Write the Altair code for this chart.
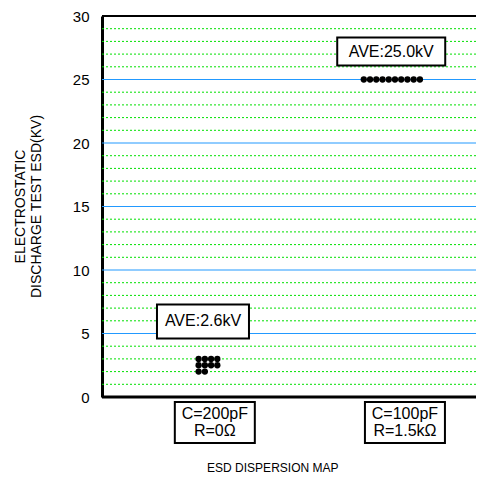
import altair as alt
import pandas as pd

# ---- data ----
y_ticks = [0, 5, 10, 15, 20, 25, 30]
major_grid = [5, 10, 15, 20, 25]
minor_grid = [1, 2, 3, 4, 6, 7, 8, 9, 11, 12, 13, 14, 16, 17, 18, 19,
              21, 22, 23, 24, 26, 27, 28, 29]

# group A: C=200pF R=0 ohm (10 samples)
a_idx = [15.5, 16.5, 17.5, 18.5, 15.5, 16.5, 17.5, 18.5, 15.5, 16.5]
a_kv = [3, 3, 3, 3, 2.5, 2.5, 2.5, 2.5, 2, 2]
# group B: C=100pF R=1.5k ohm (10 samples)
b_idx = [42, 43, 44, 45, 46, 47, 48, 49, 50, 51]
b_kv = [25, 25, 25, 25, 25, 25, 25, 25, 25, 25]

ann_text = ["AVE:2.6kV", "AVE:25.0kV"]
ann_x = [16.2, 46.4]
ann_y = [5.95, 27.2]

cat_box_x = [18.1, 48.6]
cat_box_y = [-2.0, -2.0]
cat_line_text = ["C=200pF", "R=0Ω", "C=100pF", "R=1.5kΩ"]
cat_line_x = [18.1, 18.1, 48.6, 48.6]
cat_line_y = [-1.3, -2.7, -1.3, -2.7]

ytitle_text = ["ELECTROSTATIC", "DISCHARGE TEST ESD(KV)"]
ytitle_x = [-13.0, -10.5]
ytitle_y = [15.0, 15.0]

xtitle_text = ["ESD DISPERSION MAP"]
xtitle_x = [27.4]
xtitle_y = [-5.56]

FONT = "Liberation Sans"
xs = alt.Scale(domain=[0, 60], nice=False, zero=False)
ys = alt.Scale(domain=[0, 30], nice=False, zero=False)

yaxis = alt.Axis(values=y_ticks, grid=False, ticks=False, domain=True,
                 domainColor="black", domainWidth=3, labelFont=FONT,
                 labelFontSize=15, labelColor="black", labelPadding=13,
                 title=None)


def Y(field):
    return alt.Y(field, scale=ys, axis=yaxis)


def X(field):
    return alt.X(field, scale=xs, axis=None)


minor = alt.Chart(pd.DataFrame({"v": minor_grid})).mark_rule(
    color="#00e000", strokeDash=[2, 2], strokeWidth=1
).encode(y=Y("v:Q"))

major = alt.Chart(pd.DataFrame({"v": major_grid})).mark_rule(
    color="#2299ff", strokeWidth=1.2
).encode(y=Y("v:Q"))

bottom = alt.Chart(pd.DataFrame({"v": [0]})).mark_rule(
    color="black", strokeWidth=3
).encode(y=Y("v:Q"))

top = alt.Chart(pd.DataFrame({"v": [30]})).mark_rule(
    color="black", strokeWidth=2
).encode(y=Y("v:Q"))

dots_df = pd.DataFrame({"idx": a_idx + b_idx, "kv": a_kv + b_kv})
dots = alt.Chart(dots_df).mark_circle(size=40, color="black", opacity=1).encode(
    x=X("idx:Q"), y=Y("kv:Q"),
)

ann_df = pd.DataFrame({"t": ann_text, "x": ann_x, "y": ann_y})
box1 = alt.Chart(ann_df.iloc[[0]]).mark_point(
    shape="M-46,-17H46V17H-46Z", size=4, filled=True, fill="white",
    stroke="black", strokeWidth=2, opacity=1, fillOpacity=1
).encode(x=X("x:Q"), y=Y("y:Q"))
box2 = alt.Chart(ann_df.iloc[[1]]).mark_point(
    shape="M-54,-14H54V14H-54Z", size=4, filled=True, fill="white",
    stroke="black", strokeWidth=2, opacity=1, fillOpacity=1
).encode(x=X("x:Q"), y=Y("y:Q"))
ann_txt = alt.Chart(ann_df).mark_text(font=FONT, fontSize=16, color="black").encode(
    x=X("x:Q"), y=Y("y:Q"), text="t:N"
)

cat_box_df = pd.DataFrame({"x": cat_box_x, "y": cat_box_y})
cat_box = alt.Chart(cat_box_df).mark_point(
    shape="M-40,-20.5H40V20.5H-40Z", size=4, filled=True, fill="white",
    stroke="black", strokeWidth=2, opacity=1, fillOpacity=1
).encode(x=X("x:Q"), y=Y("y:Q"))
cat_df = pd.DataFrame({"t": cat_line_text, "x": cat_line_x, "y": cat_line_y})
cat_txt = alt.Chart(cat_df).mark_text(font=FONT, fontSize=16, color="black").encode(
    x=X("x:Q"), y=Y("y:Q"), text="t:N"
)

yt_df = pd.DataFrame({"t": ytitle_text, "x": ytitle_x, "y": ytitle_y})
ytitle = alt.Chart(yt_df).mark_text(font=FONT, fontSize=14, color="black", angle=270).encode(
    x=X("x:Q"), y=Y("y:Q"), text="t:N"
)

xt_df = pd.DataFrame({"t": xtitle_text, "x": xtitle_x, "y": xtitle_y})
xtitle = alt.Chart(xt_df).mark_text(font=FONT, fontSize=12, color="black").encode(
    x=X("x:Q"), y=Y("y:Q"), text="t:N"
)

chart = alt.layer(
    minor, major, bottom, top, box1, box2, ann_txt, cat_box, cat_txt,
    ytitle, xtitle, dots
).properties(
    width=374, height=381,
    autosize=alt.AutoSizeParams(type="none"),
    padding={"left": 94, "top": 8, "right": 0, "bottom": 81},
).configure_view(stroke=None).configure(background="white")

chart.save("out.html", embed_options={"renderer": "svg", "actions": False})
